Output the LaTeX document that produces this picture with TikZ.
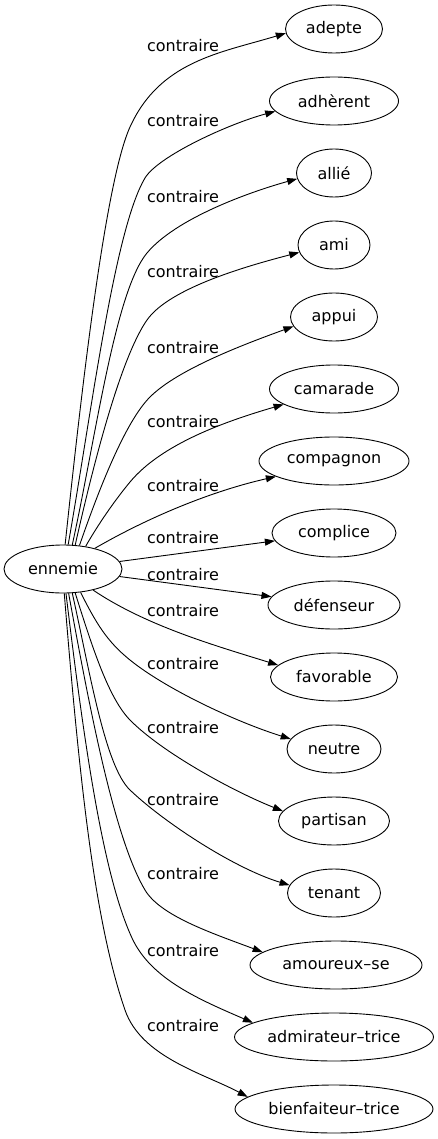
\documentclass[tikz,border=0pt]{standalone}
\usepackage{fontspec}
\setmainfont{DejaVu Sans}
\usetikzlibrary{shapes.geometric,arrows.meta}
\begin{document}
\begin{tikzpicture}[x=1pt,y=-1pt,
  every node/.style={font=\fontsize{16}{19}\selectfont},
  word/.style={draw, ellipse, line width=0.9pt, minimum height=48pt, inner sep=0pt},
  lab/.style={inner sep=0pt},
  edge/.style={line width=0.9pt, -{Triangle[length=10pt,width=7pt]}}]
\useasboundingbox (0,0) rectangle (437,1139);
\node[word, minimum width=118pt] (ennemie) at (63,569) {ennemie};
\node[word, minimum width=97pt]  (adepte) at (334,29) {adepte};
\node[word, minimum width=129pt] (adherent) at (334,101) {adhèrent};
\node[word, minimum width=75pt]  (allie) at (334,173) {allié};
\node[word, minimum width=72pt]  (ami) at (334,245) {ami};
\node[word, minimum width=87pt]  (appui) at (334,317) {appui};
\node[word, minimum width=129pt] (camarade) at (334,389) {camarade};
\node[word, minimum width=150pt] (compagnon) at (334,461) {compagnon};
\node[word, minimum width=124pt] (complice) at (334,533) {complice};
\node[word, minimum width=132pt] (defenseur) at (334,605) {défenseur};
\node[word, minimum width=127pt] (favorable) at (334,677) {favorable};
\node[word, minimum width=94pt]  (neutre) at (334,749) {neutre};
\node[word, minimum width=111pt] (partisan) at (334,821) {partisan};
\node[word, minimum width=93pt]  (tenant) at (334,893) {tenant};
\node[word, minimum width=172pt] (amoureux) at (336,965) {amoureux{\char"2013}se};
\node[word, minimum width=199pt] (admirateur) at (334,1037) {admirateur{\char"2013}trice};
\node[word, minimum width=198pt] (bienfaiteur) at (334,1109) {bienfaiteur{\char"2013}trice};

\node[lab] (l1) at (183,46) {contraire};
\node[lab] (l2) at (183,121) {contraire};
\node[lab] (l3) at (183,197) {contraire};
\node[lab] (l4) at (183,272) {contraire};
\node[lab] (l5) at (183,348) {contraire};
\node[lab] (l6) at (183,422) {contraire};
\node[lab] (l7) at (183,486) {contraire};
\node[lab] (l8) at (183,538) {contraire};
\node[lab] (l9) at (183,575) {contraire};
\node[lab] (l10) at (183,611) {contraire};
\node[lab] (l11) at (183,664) {contraire};
\node[lab] (l12) at (183,728) {contraire};
\node[lab] (l13) at (183,800) {contraire};
\node[lab] (l14) at (183,874) {contraire};
\node[lab] (l15) at (183,951) {contraire};
\node[lab] (l16) at (183,1026) {contraire};

\draw[edge] (ennemie.85) .. controls (81,395) and (105,182) .. (130,127) .. controls (160,61) and (220,53) .. (adepte.185);
\draw[edge] (ennemie.78) .. controls (90.8,417) and (114.2,229.5) .. (145,178) .. controls (157.8,156.5) and (227.8,124.1) .. (adherent.190);
\draw[edge] (ennemie.69) .. controls (95.8,437.6) and (115,291.4) .. (147,253) .. controls (175.8,218.4) and (249.4,192) .. (allie.189);
\draw[edge] (ennemie.63) .. controls (94.8,457.8) and (121.3,356.9) .. (147,320) .. controls (169.9,287.2) and (251.3,264.9) .. (ami.192);
\draw[edge] (ennemie.55) .. controls (99,489) and (125.3,421.7) .. (150,397) .. controls (178.3,368.7) and (246.9,343.3) .. (appui.193);
\draw[edge] (ennemie.45) .. controls (97.7,525.2) and (114,501.3) .. (130,482) .. controls (162,443.5) and (226.6,421) .. (camarade.197);
\draw[edge] (ennemie.33) .. controls (150.5,516.1) and (213.1,490.8) .. (compagnon.195);
\draw[edge] (ennemie) -- (complice);
\draw[edge] (ennemie) -- (defenseur);
\draw[edge] (ennemie.-35) .. controls (146.5,626.1) and (216.5,646) .. (favorable.168);
\draw[edge] (ennemie.-53) .. controls (96,623) and (106.6,641.1) .. (130,660) .. controls (165.1,688.4) and (233.9,721.2) .. (neutre.167);
\draw[edge] (ennemie.-63) .. controls (93,649.7) and (109,698.6) .. (130,720) .. controls (161.5,752.1) and (232.2,790.9) .. (partisan.169);
\draw[edge] (ennemie.-69) .. controls (89.7,670.8) and (104.8,765.9) .. (130,790) .. controls (162.4,821) and (232.6,867.8) .. (tenant.170);
\draw[edge] (ennemie.-77) .. controls (90.1,711) and (114.4,838.4) .. (145,890) .. controls (160.3,915.8) and (211.8,933.1) .. (amoureux.170);
\draw[edge] (ennemie.-83) .. controls (83.9,742) and (102.7,874.4) .. (132,938) .. controls (150.8,978.9) and (199,999.4) .. (admirateur.170);
\draw[edge] (ennemie.-87) .. controls (80.3,792.4) and (95.7,925) .. (125,1010) .. controls (141.3,1057.3) and (204,1073.5) .. (bienfaiteur.172);
\end{tikzpicture}
\end{document}
